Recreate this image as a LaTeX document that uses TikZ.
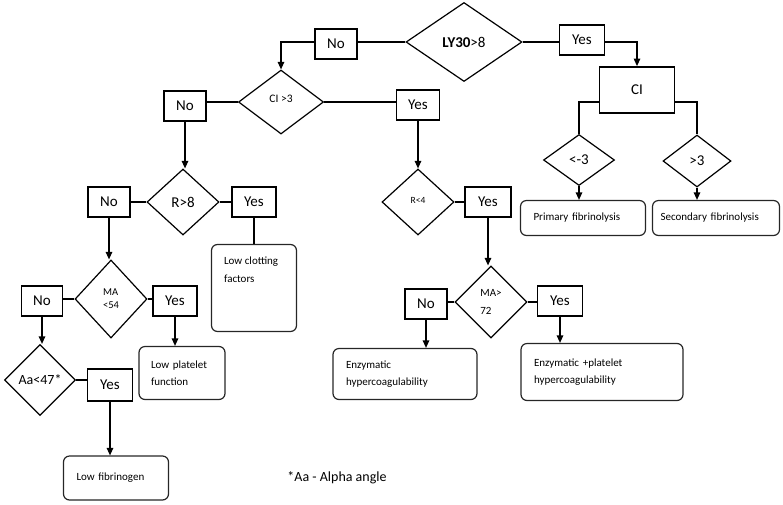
\documentclass[tikz,border=0pt]{standalone}
\usepackage{fontspec}
\setmainfont{Carlito}
\usetikzlibrary{shapes.geometric,arrows.meta}

\begin{document}
\begin{tikzpicture}[x=1pt,y=-1pt,
    ynbox/.style={draw,line width=1.8pt,minimum width=43pt,minimum height=30pt,inner sep=0pt,font=\fontsize{15}{18}\selectfont},
    test/.style={draw,shape=diamond,line width=1.2pt,inner sep=0pt,font=\fontsize{15}{18}\selectfont},
    outbox/.style={draw=black!85,rounded corners=6pt,line width=1.2pt,align=left,inner xsep=13pt,inner ysep=4pt,font=\fontsize{11}{17.5}\selectfont},
    link/.style={line width=1.2pt},
    arr/.style={line width=1.2pt,-{Triangle[width=6.5pt,length=7.5pt]}}]
        \useasboundingbox (0,0) rectangle (783,504);

        \node[test,minimum width=116pt,minimum height=79pt] (ly30) at (464,42) {\textbf{LY30}>8};
        \node[ynbox,minimum width=42pt] (no1) at (336,44) {No};
        \node[ynbox,minimum width=45pt] (yes1) at (582,40) {Yes};
        \node[ynbox,minimum width=75pt,minimum height=46pt] (ci) at (637,90) {CI};
        \node[test,minimum width=71pt,minimum height=51pt] (neg3) at (579,160) {<-3};
        \node[test,minimum width=68pt,minimum height=52pt] (pos3) at (697,161) {>3};
        \node[outbox,text width=99pt,minimum height=35pt] (prim) at (583,218) {Primary fibrinolysis};
        \node[outbox,inner xsep=8pt,text width=111pt,minimum height=35pt] (sec) at (716,218) {Secondary fibrinolysis};

        \node[test,minimum width=85pt,minimum height=64pt,text depth=6pt,font=\fontsize{11.5}{13}\selectfont] (ci3) at (281,102) {CI >3};
        \node[ynbox,minimum width=42pt] (no2) at (185,106) {No};
        \node[ynbox] (yes2) at (418,105) {Yes};

        \node[test,minimum width=72pt,minimum height=66pt] (r8) at (183,202) {R>8};
        \node[ynbox,minimum width=42pt] (no3) at (109,202) {No};
        \node[ynbox,minimum width=44pt] (yes3) at (254,202) {Yes};
        \node[outbox,minimum width=85pt,minimum height=87pt] (clot) at (254,288) {};
        \node[anchor=north west,inner sep=0pt,align=left,font=\fontsize{11}{17.5}\selectfont] (clottext) at ([shift={(13pt,-13pt)}]clot.north west) {Low clotting\\factors};

        \node[test,minimum width=72pt,minimum height=66pt,text depth=4pt,font=\fontsize{9.5}{11}\selectfont] (r4) at (418,202) {R<4};
        \node[ynbox,minimum width=46pt] (yes6) at (488,202) {Yes};

        \node[test,minimum width=72pt,minimum height=78pt,align=left,font=\fontsize{10.5}{13}\selectfont] (ma54) at (111,299) {MA\\<54};
        \node[ynbox,minimum width=41pt] (no4) at (42,301) {No};
        \node[ynbox,minimum width=44pt] (yes4) at (175,301) {Yes};
        \node[outbox,text width=62pt,inner xsep=12pt,minimum height=53pt] (plat) at (182,373) {Low platelet\\function};

        \node[test,minimum width=71pt,minimum height=71pt,font=\fontsize{14}{17}\selectfont] (aa47) at (40,380) {Aa<47*};
        \node[ynbox,minimum width=45pt,minimum height=32pt] (yes5) at (110,385) {Yes};
        \node[outbox,text width=79pt,minimum height=44pt] (fib) at (116,478) {Low fibrinogen};

        \node[test,minimum width=72pt,minimum height=72pt,align=left,font=\fontsize{11}{18}\selectfont] (ma72) at (491,302) {MA>\\72};
        \node[ynbox,minimum width=42pt] (no7) at (426,304) {No};
        \node[ynbox,minimum width=45pt] (yes7) at (560,301) {Yes};
        \node[outbox,text width=118pt,minimum height=51pt] (enz) at (405,374) {Enzymatic\\hypercoagulability};
        \node[outbox,text width=136pt,minimum height=57pt] (enzp) at (602,372) {Enzymatic +platelet\\hypercoagulability};

        \node[font=\fontsize{14}{17}\selectfont] (note) at (337,478) {*Aa - Alpha angle};

        \draw[link] (ly30.west) -- (ly30.west -| no1.east);
        \draw[arr] (no1.west |- ly30.west) -| (ci3.north);
        \draw[link] (ly30.east) -- (ly30.east -| yes1.west);
        \draw[arr] (yes1.east |- ly30.east) -| (ci.north);
        \draw[link] ([yshift=-12pt]ci.west) -| (neg3.north);
        \draw[link] ([yshift=-12pt]ci.east) -| (pos3.north);
        \draw[arr] (neg3.south) -- (neg3.south |- prim.north);
        \draw[arr] (pos3.south) -- (pos3.south |- sec.north);

        \draw[link] (ci3.west) -- (ci3.west -| no2.east);
        \draw[link] (ci3.east) -- (ci3.east -| yes2.west);
        \draw[arr] (no2.south) -- (no2.south |- r8.north);
        \draw[arr] (yes2.south) -- (r4.north);

        \draw[link] (r8.west) -- (r8.west -| no3.east);
        \draw[link] (r8.east) -- (r8.east -| yes3.west);
        \draw[link] (yes3.south) -- (yes3.south |- clot.north);
        \draw[arr] (no3.south) -- (no3.south |- ma54.north);

        \draw[link] (r4.east) -- (r4.east -| yes6.west);
        \draw[arr] (yes6.south) -- (yes6.south |- ma72.north);

        \draw[link] (ma54.west) -- (ma54.west -| no4.east);
        \draw[link] (ma54.east) -- (ma54.east -| yes4.west);
        \draw[arr] (no4.south) -- (no4.south |- aa47.north);
        \draw[arr] (yes4.south) -- (yes4.south |- plat.north);
        \draw[link] (aa47.east) -- (aa47.east -| yes5.west);
        \draw[arr] (yes5.south) -- (yes5.south |- fib.north);

        \draw[link] (ma72.west) -- (ma72.west -| no7.east);
        \draw[link] (ma72.east) -- (ma72.east -| yes7.west);
        \draw[arr] (no7.south) -- (no7.south |- enz.north);
        \draw[arr] (yes7.south) -- (yes7.south |- enzp.north);
    \end{tikzpicture}
\end{document}
